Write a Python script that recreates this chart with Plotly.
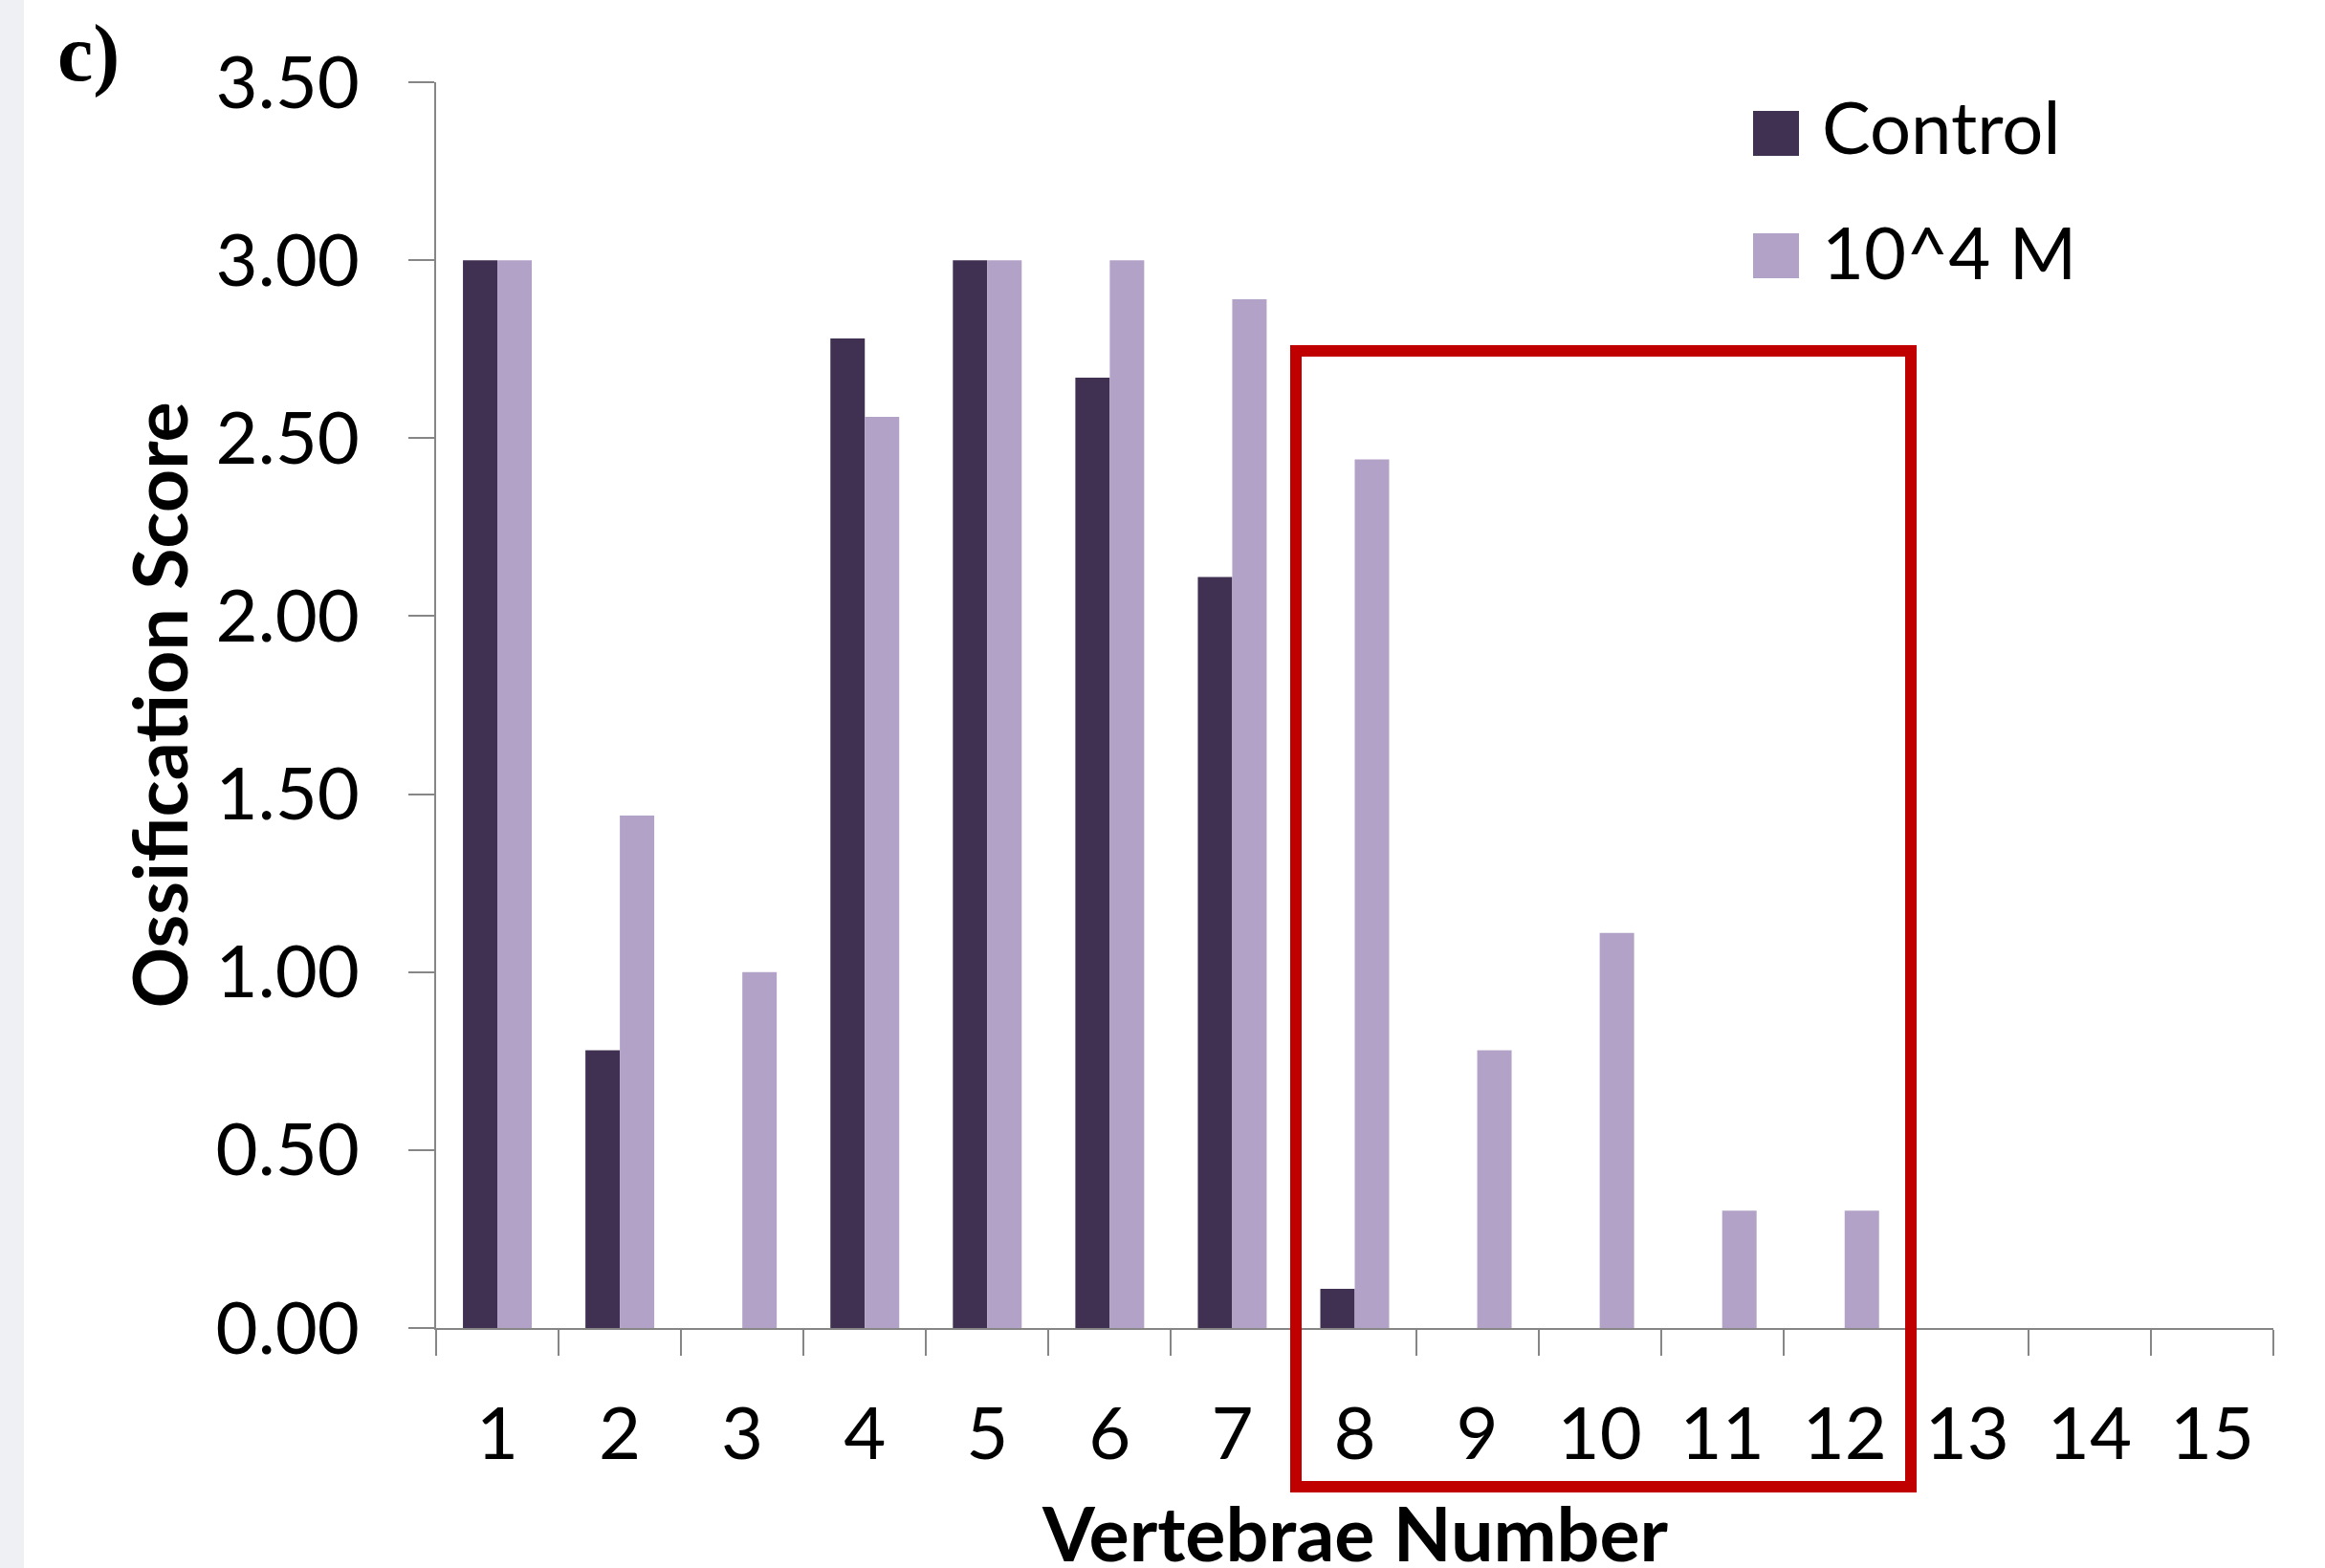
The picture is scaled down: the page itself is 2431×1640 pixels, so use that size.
import plotly.graph_objects as go

# ---- data ----
vertebrae = [str(i) for i in range(1, 16)]
control = [3.00, 0.78, 0.00, 2.78, 3.00, 2.67, 2.11, 0.11, 0, 0, 0, 0, 0, 0, 0]
treated = [3.00, 1.44, 1.00, 2.56, 3.00, 3.00, 2.89, 2.44, 0.78, 1.11, 0.33, 0.33, 0, 0, 0]
series_names = ["Control", "10^4 M"]
series_colors = ["#403152", "#B3A2C7"]
x_title = "Vertebrae Number"
y_title = "Ossification Score"

W, H = 2431, 1640
L, R, T, B = 456, 2377, 86, 1389  # plot area in pixels


def px(x):
    return (x - L) / (R - L)


def py(y):
    return (B - y) / (B - T)


FONT = "Lato"
AX = "#868686"

fig = go.Figure()
for name, vals, col in zip(series_names, [control, treated], series_colors):
    fig.add_trace(go.Bar(x=vertebrae, y=vals, name=name, marker=dict(color=col, line=dict(width=0))))

fig.update_layout(
    width=W, height=H,
    margin=dict(l=L, r=W - R, t=T, b=H - B, autoexpand=False),
    paper_bgcolor="white", plot_bgcolor="white",
    barmode="group", bargap=0.438, bargroupgap=0,
    showlegend=False,
    font=dict(family=FONT, size=76, color="black"),
)
fig.update_xaxes(
    type="category", tickson="boundaries", ticks="outside", ticklen=27, tickwidth=2, tickcolor=AX,
    showline=True, linecolor=AX, linewidth=2, showgrid=False, zeroline=False,
    ticklabelstandoff=44, tickfont=dict(family=FONT, size=76, color="black"),
    automargin=False,
)
fig.update_yaxes(
    range=[0, 3.5], dtick=0.5, tick0=0, tickformat=".2f",
    ticks="outside", ticklen=27, tickwidth=2, tickcolor=AX,
    showline=True, linecolor=AX, linewidth=2, showgrid=False, zeroline=False,
    ticklabelstandoff=36, tickfont=dict(family=FONT, size=76, color="black"),
    title=dict(text=y_title, font=dict(family=FONT, size=79, weight="bold", color="black"), standoff=3),
    automargin=False,
)

# x-axis title (annotation so it can sit right at the bottom edge, as in the original)
fig.add_annotation(xref="paper", yref="paper", x=0.5, y=py(1602), text=x_title, showarrow=False,
                   xanchor="center", yanchor="middle",
                   font=dict(family=FONT, size=79, weight="bold", color="black"))

# left grey strip of the page
fig.add_shape(type="rect", xref="paper", yref="paper", x0=px(0), x1=px(25), y0=py(H), y1=py(0),
              fillcolor="#EEF0F4", line=dict(width=0), layer="below")

# red highlight box
fig.add_shape(type="rect", xref="paper", yref="paper", x0=px(1355), x1=px(1998), y0=py(1555), y1=py(367),
              line=dict(color="#C00000", width=12), fillcolor="rgba(0,0,0,0)", layer="above")

# custom legend
legend_rows = [(116, 163, 132), (244, 291, 262)]
for (top, bot, mid), name, col in zip(legend_rows, series_names, series_colors):
    fig.add_shape(type="rect", xref="paper", yref="paper", x0=px(1833), x1=px(1881), y0=py(bot), y1=py(top),
                  fillcolor=col, line=dict(width=0))
    fig.add_annotation(xref="paper", yref="paper", x=px(1903), y=py(mid), text=name, showarrow=False,
                       xanchor="left", yanchor="middle", font=dict(family=FONT, size=76, color="black"))

# panel label
fig.add_annotation(xref="paper", yref="paper", x=px(58), y=py(56), text="<b>c)</b>", showarrow=False,
                   xanchor="left", yanchor="middle", font=dict(family="Liberation Serif", size=84, color="black"))

fig.write_html("out.html", config={"displayModeBar": False},
               post_script="document.body.style.margin='0';")
